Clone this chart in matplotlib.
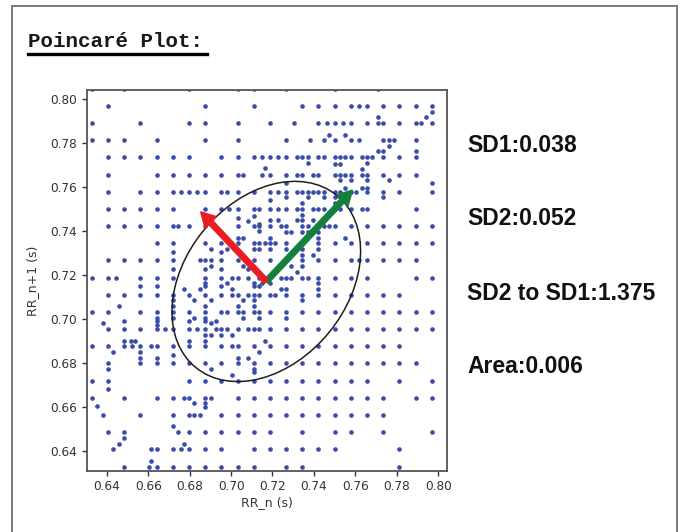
import numpy as np
import matplotlib.pyplot as plt
from matplotlib.patches import Ellipse
from matplotlib.lines import Line2D

fs = 128.0  # RR intervals counted in samples at 128 Hz

# RR_n values (samples) for each RR_n+1 row (samples)
row_103 = [81, 83, 87, 90, 91, 93, 96]
row_102 = [82, 88, 91, 94, 95, 96, 97, 97.5, 98, 99, 100, 101, 102]
row_101 = [81, 84, 87, 88, 90, 92, 93.5, 95, 95.5, 96, 96.5, 97, 98, 98.67,
           99, 100, 101, 101.33, 102]
row_100 = [81, 82, 83, 85, 88, 90, 93, 94.5, 95.33, 96, 97, 97.5, 99, 99.33,
           99.67, 101]
row_99 = [82, 83, 84, 85, 86, 87, 89, 90, 91, 91.5, 92, 92.5, 93, 93.67, 94,
          94.33, 95, 95.33, 96, 96.33, 96.67, 97, 97.67, 98, 98.33, 99, 100, 101]
row_98 = [82, 85, 86, 87, 88, 89, 90, 90.33, 91.5, 92, 93, 93.67, 94, 94.67,
          95, 96, 96.33, 96.67, 97, 97.67, 98, 99, 100, 101]
row_97 = [82, 84, 85, 86, 86.5, 87, 87.5, 88, 89, 89.33, 90, 91, 92, 92.5, 93,
          93.67, 94, 94.33, 94.67, 95, 95.33, 96, 96.33, 97, 97.33, 98, 99,
          100, 102]
row_96 = [82, 83, 84, 85, 86, 88, 89, 89.5, 90, 91, 91.33, 92, 92.5, 93,
          93.67, 94, 94.67, 95, 95.33, 96, 96.33, 97, 97.67, 98, 101]
row_95 = [82, 83, 84, 85, 86, 86.33, 87, 88, 90, 91, 91.33, 92, 92.67, 93, 94,
          94.33, 95, 95.33, 95.67, 96, 97, 98, 99, 100, 101, 102]
row_94 = [85, 86, 88, 89, 90, 91, 91.33, 91.67, 92, 92.33, 93, 94, 95, 96, 97,
          98, 99, 100, 101, 102]
row_93 = [82, 83, 84, 85, 86, 87.67, 88, 88.33, 89, 90, 91, 92, 93, 94, 95,
          96, 97, 97.5, 98, 99, 100, 101]
row_92 = [81, 82, 82.5, 84, 85, 86, 88, 89, 89.67, 90, 90.67, 91.33, 91.67,
          92.67, 93, 93.33, 94, 94.33, 95, 96, 97, 98, 101, 102]
row_91 = [82, 83, 84, 85, 86, 87, 88, 89, 89.67, 90, 90.67, 91, 91.33, 92,
          92.33, 93, 94, 95, 96, 97, 98, 99, 100]
row_90 = [81, 82, 84, 85, 86, 87, 88, 89, 89.33, 90, 90.33, 91, 91.33, 92, 93,
          94, 95, 96, 97, 98, 99, 100, 101, 102]
row_89 = [82, 83, 84, 85, 85.5, 86, 87, 87.5, 88, 88.67, 89, 89.33, 90, 90.67,
          91, 91.33, 92, 93, 94, 95, 96, 97, 98, 99, 100, 101, 102]
row_88 = [81, 82, 83, 83.5, 84, 84.67, 85, 86, 87, 88, 89, 89.67, 90, 91, 92,
          93, 94, 95, 96, 97, 98, 99, 100]
row_87 = [82, 84, 85, 86, 87, 88, 89, 90, 91, 92, 93, 94, 95, 96, 97, 98, 99,
          100, 101]
row_86 = [81, 82, 87, 88, 89, 90, 91, 92, 93, 94, 95, 96, 97, 98, 100, 102]
row_85 = [81, 83, 85, 86, 86.67, 87, 88, 88.33, 90, 91, 92, 93, 94, 95, 96,
          97, 98, 99, 101, 102]
row_84 = [81.67, 84, 86, 87, 87.33, 87.67, 89, 90, 91, 92, 93, 94, 95, 96, 97,
          98, 99]
row_83 = [82, 83, 86.33, 87, 88, 89, 90, 91, 92, 94, 96, 97, 99, 102]
row_82 = [82.33, 84.67, 85, 86, 86.5, 87, 88, 89, 91, 92, 93, 94, 95, 96, 100]
row_81 = [83, 84.5, 85, 86, 87, 88, 89, 90, 91, 93, 94, 100]

# pairs (RR_n, RR_n+1) in samples that fall between the rows
extra_pts = [
    (98.67, 103), (102, 101.67), (101.67, 101.33), (98.67, 101.33),
    (95.67, 100.33), (96.67, 100.33), (99.33, 99.67), (99, 99.4),
    (98.67, 99.35), (101, 99.35), (91.67, 98.4), (94.33, 98.67),
    (96, 98.6), (96.33, 98.6), (98, 98.67), (97.67, 98.33),
    (96.33, 97.67), (97, 97.67), (98, 97.67), (99.33, 97.67),
    (93, 97.5), (102, 97.5), (96.67, 97.2), (97.67, 97.2), (98, 97.2),
    (92, 96.5), (93, 96.67), (94.33, 96.67), (95.33, 96.67), (96, 96.67),
    (96.33, 96.67), (99, 96.67), (94, 96.33), (96, 96.33),
    (94, 95.65), (92, 95.35), (92.5, 95.35), (93.67, 95.35), (94, 95.35),
    (94.67, 95.35), (90, 95.5), (91, 95.6), (90.67, 95.3), (91.33, 95.15),
    (91.33, 94.7), (93, 94.67), (93.33, 94.67), (94, 94.67), (94.33, 94.67),
    (95, 94.67), (92, 94.33), (95, 94.33), (96.67, 94.33), (90, 94.33),
    (90.33, 94.33), (92, 93.67), (93, 93.67), (94, 93.67), (95, 93.67),
    (88.33, 93.67), (89.33, 93.67), (91, 93.67), (91.33, 93.67),
    (86, 93.5), (89, 93.5), (94, 93.33), (94.67, 93.33),
    (93.33, 92.67), (94, 92.67), (88.33, 92.67), (90.33, 92.67),
    (86, 92.5), (88, 92.5), (89, 92.5), (90.67, 92.5), (93.67, 92.33),
    (92, 91.67), (95, 91.67), (88, 91.67), (89.33, 91.67), (91, 91.67),
    (91.5, 91.67), (84, 91.5), (85, 91.5), (88, 91.5), (89, 91.5),
    (91, 91.5), (91.33, 91.5), (92.67, 91.33), (93, 91.33), (95, 91.33),
    (86.67, 91.33), (87.67, 91.33), (89.67, 91.33),
    (94, 90.67), (86, 90.67), (87.33, 90.67), (88.33, 90.67), (90.33, 90.67),
    (91, 90.67), (82.67, 90.33), (86, 90.33), (88, 90.33), (90, 90.33),
    (91, 90.33), (93, 89.67), (85, 89.67), (86, 89.67), (87.33, 89.67),
    (88, 89.67), (90.33, 89.67), (91.33, 89.67), (83, 89.5), (85, 89.45),
    (87, 89.5), (88, 89.5), (88.67, 89.5), (81.67, 89.33), (85, 89.25),
    (88.33, 89.33), (88, 88.67), (88.33, 88.67), (89, 88.67), (89.67, 88.67),
    (83, 88.33), (83.4, 88.33), (83.67, 88.33), (87, 88.33), (88, 88.33),
    (91.67, 88.33), (82.33, 87.67), (84, 87.67), (91.33, 87.67), (86, 87.5),
    (84, 87.33), (85, 87.33), (90, 87.33), (90.67, 87.33), (82, 86.67),
    (88.33, 86.67), (91, 86.67), (91, 86.5), (89.67, 86.33), (82, 85.5),
    (87.33, 84.67), (88, 84.67), (81.33, 84.5), (88, 84.45), (86, 83.33),
    (83, 82.67), (82.67, 82.33), (86.67, 82.33), (84.67, 81.33),
]

# summary values shown next to the plot
sd1 = 0.038
sd2 = 0.052
sd_ratio = 1.375
area = 0.006
rr_mean = 0.717

rows = [(103, row_103), (102, row_102), (101, row_101), (100, row_100),
        (99, row_99), (98, row_98), (97, row_97), (96, row_96), (95, row_95),
        (94, row_94), (93, row_93), (92, row_92), (91, row_91), (90, row_90),
        (89, row_89), (88, row_88), (87, row_87), (86, row_86), (85, row_85),
        (84, row_84), (83, row_83), (82, row_82), (81, row_81)]

rr_n = [v for r, vals in rows for v in vals] + [p[0] for p in extra_pts]
rr_n1 = [r for r, vals in rows for v in vals] + [p[1] for p in extra_pts]
rr_n = np.array(rr_n) / fs
rr_n1 = np.array(rr_n1) / fs

fig = plt.figure(figsize=(6.92, 5.32), dpi=100)

# page frame
for xs, ys in [([0.0169, 0.0169], [0, 0.9887]),
               ([0.0169, 0.9779], [0.9887, 0.9887]),
               ([0.9779, 0.9779], [0, 0.9887])]:
    fig.add_artist(Line2D(xs, ys, transform=fig.transFigure,
                          color='#7a7a7a', lw=1.4))

fig.text(28 / 692, 1 - 46.7 / 532, 'Poincaré Plot:', family='Liberation Mono',
         weight='bold', size=15, color='#1a1a1a', va='baseline')
fig.add_artist(Line2D([28 / 692, 207 / 692], [1 - 54 / 532] * 2,
                      transform=fig.transFigure, color='black', lw=2.4))

ax = fig.add_axes([0.1253, 0.1152, 0.5202, 0.7156])
ax.scatter(rr_n, rr_n1, s=11, color='#3a4caa', linewidths=0)

ell = Ellipse((rr_mean, rr_mean), width=2 * sd2, height=2 * sd1, angle=45,
              fill=False, ec='#1e1e1e', lw=1.1)
ax.add_patch(ell)

c45 = np.cos(np.pi / 4)
ax.arrow(rr_mean, rr_mean, sd2 * c45, sd2 * c45, width=0.0026,
         head_width=0.0075, head_length=0.0068, color='#15803c', zorder=4)
ax.arrow(rr_mean, rr_mean, -sd1 * c45, sd1 * c45, width=0.0026,
         head_width=0.0075, head_length=0.0068, color='#ec1c24', zorder=4)

ax.set_xlim(0.6303, 0.8041)
ax.set_ylim(0.6309, 0.8041)
ax.set_xticks(np.arange(0.64, 0.801, 0.02))
ax.set_yticks(np.arange(0.64, 0.801, 0.02))
ax.tick_params(labelsize=8.7, length=3.5, width=1, colors='#333333')
for sp in ax.spines.values():
    sp.set_color('#555555')
    sp.set_linewidth(1.3)
ax.set_xlabel('RR_n (s)', fontsize=9, color='#333333', labelpad=2)
ax.set_ylabel('RR_n+1 (s)', fontsize=9, color='#333333', labelpad=8)

stats = [f'SD1:{sd1:.3f}', f'SD2:{sd2:.3f}', f'SD2 to SD1:{sd_ratio:.3f}',
         f'Area:{area:.3f}']
for txt, yb in zip(stats, [151.6, 225, 300, 373.3]):
    fig.text(467 / 692, 1 - yb / 532, txt, family='Liberation Sans',
             weight='bold', size=16.5, color='#111111', va='baseline')

fig.savefig('out.png', dpi=100)
